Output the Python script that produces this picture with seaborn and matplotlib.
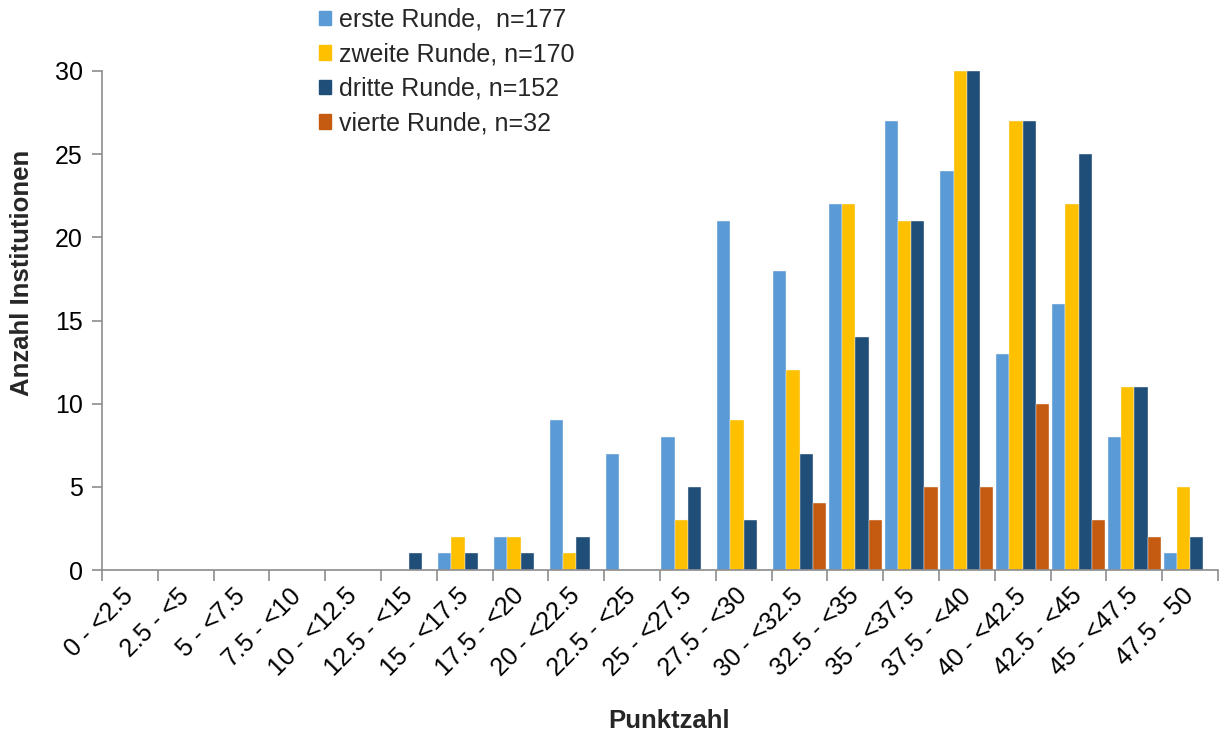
"""Histogramm der Punktzahlen je Runde."""
import numpy as np
import pandas as pd
import seaborn as sns
import matplotlib.pyplot as plt

categories = ['0 - <2.5', '2.5 - <5', '5 - <7.5', '7.5 - <10', '10 - <12.5',
              '12.5 - <15', '15 - <17.5', '17.5 - <20', '20 - <22.5',
              '22.5 - <25', '25 - <27.5', '27.5 - <30', '30 - <32.5',
              '32.5 - <35', '35 - <37.5', '37.5 - <40', '40 - <42.5',
              '42.5 - <45', '45 - <47.5', '47.5 - 50']
series_names = ['erste Runde,  n=177', 'zweite Runde, n=170',
                'dritte Runde, n=152', 'vierte Runde, n=32']
erste = [0, 0, 0, 0, 0, 0, 1, 2, 9, 7, 8, 21, 18, 22, 27, 24, 13, 16, 8, 1]
zweite = [0, 0, 0, 0, 0, 0, 2, 2, 1, 0, 3, 9, 12, 22, 21, 30, 27, 22, 11, 5]
dritte = [0, 0, 0, 0, 0, 1, 1, 1, 2, 0, 5, 3, 7, 14, 21, 30, 27, 25, 11, 2]
vierte = [0, 0, 0, 0, 0, 0, 0, 0, 0, 0, 0, 0, 4, 3, 5, 5, 10, 3, 2, 0]
colors = ['#5B9BD5', '#FFC000', '#1F4E79', '#C55A11']

# long format for seaborn
rows = []
for name, vals in zip(series_names, [erste, zweite, dritte, vierte]):
    for cat, v in zip(categories, vals):
        rows.append({'Punktzahl': cat, 'Anzahl': v, 'Runde': name})
df = pd.DataFrame(rows)

sns.set_theme(style='white')
plt.rcParams['font.family'] = ['Liberation Sans', 'DejaVu Sans']

fig = plt.figure(figsize=(12.23, 7.34), dpi=100)
ax = fig.add_axes([102 / 1223, 1 - 570 / 734, 1116 / 1223, 499 / 734])

sns.barplot(data=df, x='Punktzahl', y='Anzahl', hue='Runde',
            order=categories, hue_order=series_names, palette=colors,
            saturation=1, width=0.95, dodge=True, ax=ax,
            edgecolor='#f4f4f4', linewidth=0.3, legend=False)

ax.set_ylim(0, 30)
ax.set_xlim(-0.5, len(categories) - 0.5)
ax.set_yticks(range(0, 31, 5))

# category labels in the centre, tick marks at the boundaries
ax.set_xticks(range(len(categories)))
ax.set_xticklabels(categories, rotation=45, ha='right', va='center',
                   rotation_mode='anchor')
ax.set_xticks(np.arange(-0.5, len(categories)), minor=True)
ax.tick_params(axis='x', which='major', length=0, pad=16, labelsize=18,
               labelcolor='black')
ax.tick_params(axis='x', which='minor', length=8, width=1.2, color='#8c8c8c',
               direction='out', bottom=True)
ax.tick_params(axis='y', length=7, width=1.2, color='#8c8c8c',
               direction='out', left=True, labelsize=18, labelcolor='black',
               pad=7)

for side in ['top', 'right']:
    ax.spines[side].set_visible(False)
for side in ['left', 'bottom']:
    ax.spines[side].set_color('#8c8c8c')
    ax.spines[side].set_linewidth(1.2)

ax.set_xlabel('Punktzahl', fontsize=18.5, fontweight='bold')
ax.set_ylabel('Anzahl Institutionen', fontsize=18.5, fontweight='bold')
ax.xaxis.set_label_coords(0.508, -0.278)
ax.yaxis.set_label_coords(-0.061, 0.595)

handles = [plt.Rectangle((0, 0), 1, 1, color=c) for c in colors]
fig.legend(handles, series_names, loc='upper left',
           bbox_to_anchor=(309 / 1223, 1.003), frameon=False, fontsize=18,
           handlelength=0.5, handleheight=0.5, handletextpad=0.3,
           labelspacing=0.42, borderaxespad=0)

fig.savefig('out.png', dpi=100)
